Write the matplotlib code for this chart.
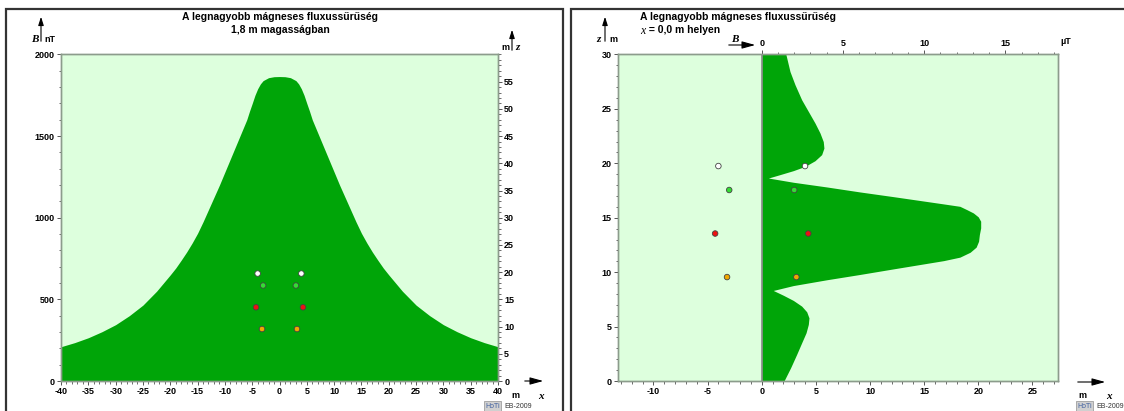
import numpy as np
import matplotlib
matplotlib.use("Agg")
import matplotlib.pyplot as plt
from matplotlib.ticker import MultipleLocator, FixedLocator
from matplotlib.patches import Rectangle, FancyArrowPatch

# ---------------- data ----------------
# Left panel: B (nT) at 1.8 m height vs horizontal position x (m)
x_left = [-40, -37.5, -35, -32.5, -30, -27.5, -25, -22.5, -20, -19, -18, -17, -16, -15, -14, -13, -12, -11,
          -10, -9, -8.5, -8, -7.5, -7, -6.5, -6, -5.5, -5, -4.5, -4, -3.5, -3, -2, -1, 0,
          1, 2, 3, 3.5, 4, 4.5, 5, 5.5, 6, 6.5, 7, 7.5, 8, 8.5, 9, 10,
          11, 12, 13, 14, 15, 16, 17, 18, 19, 20, 22.5, 25, 27.5, 30, 32.5, 35, 37.5, 40]
b_left = [210, 235, 265, 302, 345, 400, 465, 550, 650, 692, 740, 790, 845, 905, 975, 1050, 1125, 1200,
          1280, 1360, 1400, 1440, 1480, 1520, 1560, 1600, 1652, 1700, 1750, 1790, 1820, 1840, 1858, 1864, 1865,
          1864, 1858, 1840, 1820, 1790, 1750, 1700, 1652, 1600, 1560, 1520, 1480, 1440, 1400, 1360, 1280,
          1200, 1125, 1050, 975, 905, 845, 790, 740, 692, 650, 550, 465, 400, 345, 302, 265, 235, 210]

# Right panel: B (uT) at x = 0 m vs height z (m)
z_right = [0, 1.22, 2.44, 3.51, 4.43, 5.2, 5.8, 6.36, 6.88, 7.4, 7.88, 8.32, 8.77, 9.3, 9.79, 10.3, 11.06,
           11.38, 11.83, 12.3, 12.84, 13.46, 14.07, 14.68, 15.08, 15.44, 15.75, 16.05, 16.27, 16.94, 17.37,
           17.83, 18.26, 18.65, 18.96, 19.33, 19.72, 20.24, 20.8, 21.4, 22.0, 22.78, 23.7, 24.77, 25.84,
           27.22, 28.44, 30]
b_right = [1.37, 1.78, 2.15, 2.46, 2.73, 2.87, 2.91, 2.77, 2.46, 1.95, 1.33, 0.71, 1.95, 4.0, 6.05, 8.1, 11.2,
           12.2, 12.83, 13.2, 13.35, 13.4, 13.48, 13.48, 13.33, 13.03, 12.62, 12.2, 11.2, 8.1, 6.05,
           4.0, 1.95, 0.41, 1.12, 1.95, 2.67, 3.28, 3.69, 3.83, 3.79, 3.59, 3.28, 2.87, 2.46,
           2.05, 1.74, 1.49]

# Conductors (x, z in m) and colours
cond_x = [-4.0, 4.0, -3.0, 3.0, -4.3, 4.3, -3.2, 3.2]
cond_z = [19.75, 19.75, 17.55, 17.55, 13.55, 13.55, 9.55, 9.55]
cond_c = ["#FFFFFF", "#FFFFFF", "#33DD33", "#33DD33", "#EE1111", "#EE1111", "#F0A800", "#F0A800"]

left_title = "A legnagyobb mágneses fluxussűrűség"
left_sub = "1,8 m magasságban"
right_title = "A legnagyobb mágneses fluxussűrűség"
right_sub = " = 0,0 m helyen"

# ---------------- style ----------------
W, H = 1124, 411
GREEN = "#00A508"
LIGHT = "#DDFFDD"
SPINE = "#8C9C8C"
FONT = "Liberation Sans"
plt.rcParams["font.family"] = FONT
plt.rcParams["axes.unicode_minus"] = False

fig = plt.figure(figsize=(W / 100, H / 100), dpi=100)
fig.patch.set_facecolor("white")


def fx(px):
    return px / W


def fy(py):
    return 1 - py / H


def style_axis(ax):
    for s in ax.spines.values():
        s.set_color(SPINE)
        s.set_linewidth(1.0)
    ax.tick_params(which="major", length=3, width=0.7, color="#555555", pad=1.5, labelsize=6.5)
    ax.tick_params(which="minor", length=1.8, width=0.6, color="#555555")
    for lab in ax.get_xticklabels() + ax.get_yticklabels():
        lab.set_fontweight("bold")
        lab.set_family(FONT)


# ---------------- left panel ----------------
L0, R0, T0, B0 = 61, 498, 54.5, 381
ax1 = fig.add_axes([fx(L0), fy(B0), fx(R0 - L0), (B0 - T0) / H])
ax1.set_facecolor(LIGHT)
ax1.fill_between(x_left, 0, b_left, color=GREEN, lw=0)
ax1.set_xlim(-40, 40)
ax1.set_ylim(0, 2000)
ax1.xaxis.set_major_locator(MultipleLocator(5))
ax1.xaxis.set_minor_locator(MultipleLocator(1))
ax1.yaxis.set_major_locator(MultipleLocator(500))
ax1.yaxis.set_minor_locator(MultipleLocator(100))
style_axis(ax1)

ax1r = ax1.twinx()
ax1r.set_ylim(0, 60)
ax1r.yaxis.set_major_locator(FixedLocator(list(range(0, 60, 5))))
ax1r.yaxis.set_minor_locator(MultipleLocator(1))
ax1r.scatter(cond_x, cond_z, s=16, c=cond_c, edgecolors="#444444", linewidths=0.6, zorder=5)
style_axis(ax1r)

# ---------------- right panel ----------------
XL, XR = -13.3, 27.4
L1 = 761.7 + XL * 10.83
R1 = 761.7 + XR * 10.83
ax2 = fig.add_axes([fx(L1), fy(B0), fx(R1 - L1), (B0 - T0) / H])
ax2.set_xlim(XL, XR)
ax2.set_ylim(0, 30)
ax2.xaxis.set_major_locator(MultipleLocator(5))
ax2.xaxis.set_minor_locator(MultipleLocator(1))
ax2.yaxis.set_major_locator(MultipleLocator(5))
ax2.yaxis.set_minor_locator(MultipleLocator(1))
style_axis(ax2)

ax2t = ax2.twiny()
ax2t.set_xlim(XL / 1.5, XR / 1.5)
ax2t.fill_betweenx(z_right, 0, b_right, color=GREEN, lw=0, zorder=2)
ax2t.axvline(0, color="#888888", lw=1.2, zorder=3)
ax2t.xaxis.set_major_locator(FixedLocator([0, 5, 10, 15]))
ax2t.xaxis.set_minor_locator(FixedLocator(list(range(0, 19))))
style_axis(ax2t)
ax2.scatter(cond_x, cond_z, s=16, c=cond_c, edgecolors="#444444", linewidths=0.6, zorder=6)
ax2.set_zorder(ax2t.get_zorder() + 1)
ax2.patch.set_visible(False)
ax2t.set_facecolor(LIGHT)
ax2t.patch.set_visible(True)

# ---------------- panel frames ----------------
fig.add_artist(Rectangle((fx(6), -0.2), fx(563 - 6), fy(9) + 0.2, transform=fig.transFigure,
                         fill=False, ec="#333333", lw=1.6))
fig.add_artist(Rectangle((fx(571), -0.2), fx(W + 20 - 571), fy(9) + 0.2, transform=fig.transFigure,
                         fill=False, ec="#333333", lw=1.6))

# ---------------- titles ----------------
fig.text(fx(280), fy(17), left_title, ha="center", va="center", fontsize=7.5, fontweight="bold")
fig.text(fx(280), fy(30), left_sub, ha="center", va="center", fontsize=7.5, fontweight="bold")
fig.text(fx(640), fy(17), right_title, ha="left", va="center", fontsize=7.5, fontweight="bold")
fig.text(fx(640), fy(30.5), "x", ha="left", va="center", fontsize=8.5, style="italic",
         family="Liberation Serif")
fig.text(fx(646), fy(30), right_sub, ha="left", va="center", fontsize=7.5, fontweight="bold")

SERIF = dict(family="Liberation Serif", style="italic", fontweight="bold", fontsize=8)
SMALL = dict(fontsize=6.5, fontweight="bold")


def up_arrow(x, y0, y1):
    fig.add_artist(FancyArrowPatch(
        (fx(x), fy(y0)), (fx(x), fy(y1)), transform=fig.transFigure,
        arrowstyle="-|>,head_length=5,head_width=1.6", lw=0.8, color="black",
        mutation_scale=1))


def right_arrow(x0, x1, y):
    fig.add_artist(FancyArrowPatch(
        (fx(x0), fy(y)), (fx(x1), fy(y)), transform=fig.transFigure,
        arrowstyle="-|>,head_length=8,head_width=2.2", lw=0.8, color="black",
        mutation_scale=1))


# left panel axis labels
up_arrow(41, 44, 14)
fig.text(fx(38), fy(40), "B", ha="right", va="center", **SERIF)
fig.text(fx(44), fy(40), "nT", ha="left", va="center", **SMALL)
up_arrow(512, 53, 27)
fig.text(fx(509), fy(47), "m", ha="right", va="center", **SMALL)
fig.text(fx(515), fy(47), "z", ha="left", va="center", **SERIF)
right_arrow(522, 546, 381)
fig.text(fx(515), fy(395), "m", ha="center", va="center", **SMALL)
fig.text(fx(541), fy(396), "x", ha="center", va="center", **SERIF)

# right panel axis labels
up_arrow(605, 44, 14)
fig.text(fx(601), fy(40), "z", ha="right", va="center", **SERIF)
fig.text(fx(609), fy(40), "m", ha="left", va="center", **SMALL)
fig.text(fx(735), fy(40), "B", ha="center", va="center", **SERIF)
right_arrow(726, 758, 45)
fig.text(fx(1066), fy(42), "µT", ha="center", va="center", **SMALL)
right_arrow(1075, 1108, 382)
fig.text(fx(1082), fy(395), "m", ha="center", va="center", **SMALL)
fig.text(fx(1109), fy(396), "x", ha="center", va="center", **SERIF)


# logos
def logo(x, y):
    fig.text(fx(x), fy(y), "HoTi", ha="left", va="center", fontsize=5, color="#4060A0",
             bbox=dict(boxstyle="square,pad=0.15", fc="#D0D0D0", ec="#909090", lw=0.5))
    fig.text(fx(x + 19), fy(y), "EB-2009", ha="left", va="center", fontsize=5, color="#333333")


logo(1077, 406)
logo(485, 406)

fig.savefig("out.png", dpi=100)
